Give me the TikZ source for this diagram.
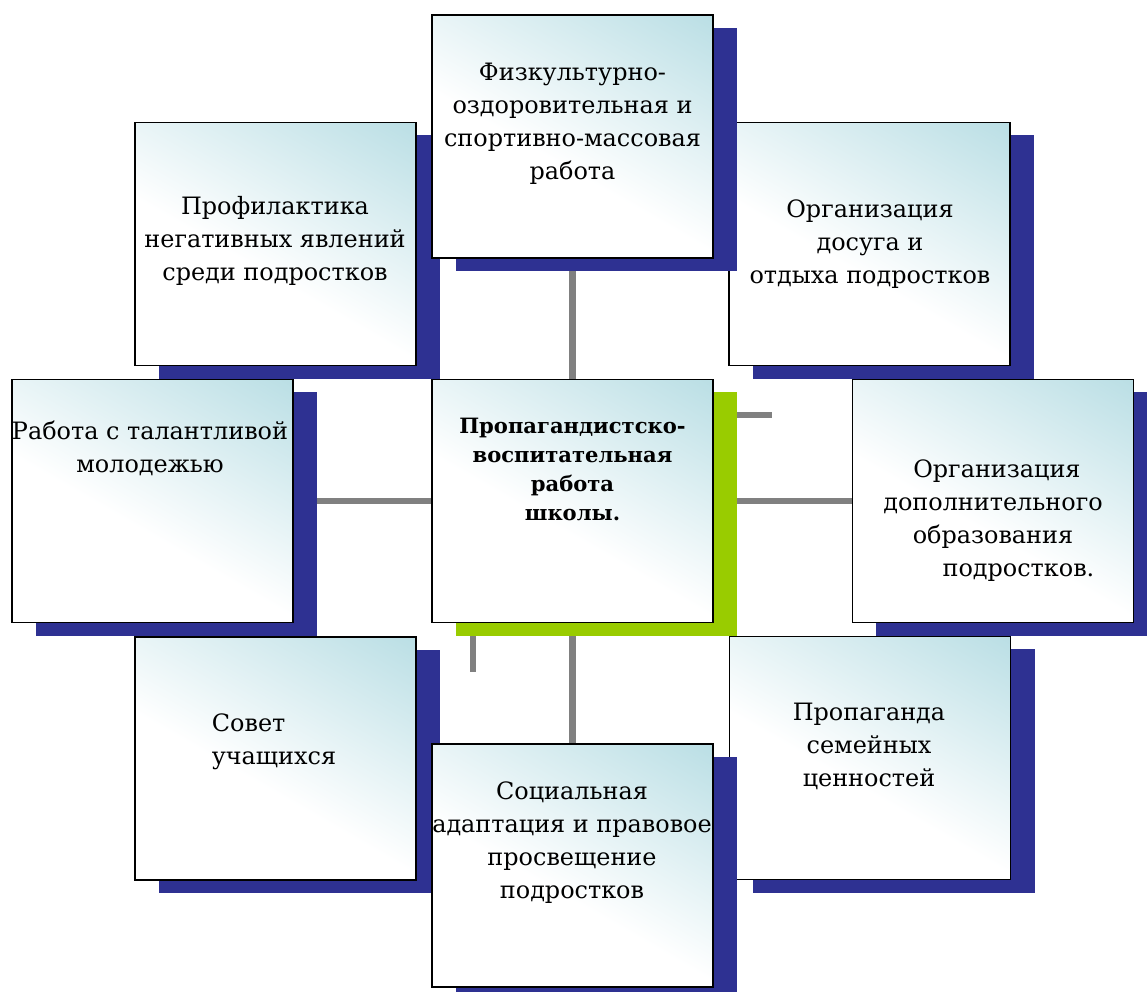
\documentclass[tikz,border=0pt]{standalone}
\usepackage{fontspec}
\setmainfont{DejaVu Serif}
\usetikzlibrary{shadows}
\definecolor{navyshadow}{RGB}{46,49,146}
\definecolor{limeshadow}{RGB}{153,204,0}
\definecolor{paleteal}{RGB}{166,213,221}
\definecolor{linkgray}{RGB}{128,128,128}
\pgfdeclareverticalshading{cardshade}{100bp}{color(0bp)=(white);color(44bp)=(white);color(96bp)=(paleteal);color(100bp)=(paleteal)}
\pgfdeclarelayer{bg}
\pgfsetlayers{bg,main}
\tikzstyle{cardbase} = [rectangle,draw=black,line width=0.8pt,inner sep=0pt,
	minimum width=7.025cm,minimum height=6.075cm,shading=cardshade,shading angle=-30]
\tikzstyle{card} = [cardbase,drop shadow={shadow xshift=0.6cm,shadow yshift=-0.325cm,fill=navyshadow,opacity=1}]
\tikzstyle{keycard} = [cardbase,drop shadow={shadow xshift=0.6cm,shadow yshift=-0.325cm,fill=limeshadow,opacity=1}]
\tikzstyle{cardtext} = [anchor=north,align=center,inner sep=0pt,font=\fontsize{17}{23.5}\selectfont]
\tikzstyle{keytext} = [cardtext,font=\fontsize{15}{20.6}\selectfont\bfseries]
\tikzstyle{link} = [draw=linkgray,line width=4.3pt]

\begin{document}
\begin{tikzpicture}[x=0.025cm,y=-0.025cm]
	\useasboundingbox (0,0) rectangle (1147,992);
	\node[card] (prof) at (275.5,244) {};
	\node[card] (dosug) at (869.5,244) {};
	\node[card] (fiz) at (572.5,136.5) {};
	\node[card] (talent) at (152.5,501) {};
	\node[card] (dopobr) at (993,501) {};
	\node[keycard] (core) at (572.5,501) {};
	\node[card] (sovet) at (275.5,758.5) {};
	\node[card] (semya) at (870,758) {};
	\node[card] (social) at (572.5,865.5) {};
	\coordinate (stubr) at (772,415);
	\coordinate (stubb) at (473,672);

	\node[cardtext] (fizt) at (572.5,63) {Физкультурно-\\оздоровительная и\\спортивно-массовая\\работа};
	\node[cardtext] (proft) at (275,196) {Профилактика\\негативных явлений\\среди подростков};
	\node[cardtext] (dosugt) at (870,199) {Организация\\досуга и\\отдыха подростков};
	\node[cardtext] (talentt) at (150,421) {Работа с талантливой\\молодежью};
	\node[cardtext] (dopobrt) at (993,459) {\hspace*{0.33em}Организация\\дополнительного\\образования\hspace*{1.07em}\\\hspace*{2.13em}подростков.};
	\node[keytext] (coret) at (572.5,418) {Пропагандистско-\\воспитательная\\работа\\школы.};
	\node[cardtext,align=left] (sovett) at (274,713) {Совет\\учащихся};
	\node[cardtext] (semyat) at (869,703) {Пропаганда\\семейных\\ценностей};
	\node[cardtext] (socialt) at (572,781) {Социальная\\адаптация и правовое\\просвещение\\подростков};

	\begin{pgfonlayer}{bg}
		\draw[link] (core) -- (fiz);
		\draw[link] (core) -- (social);
		\draw[link] (core) -- (talent);
		\draw[link] (core) -- (dopobr);
		\draw[link] (core.east |- stubr) -- (stubr);
		\draw[link] (core.south -| stubb) -- (stubb);
	\end{pgfonlayer}
\end{tikzpicture}
\end{document}
